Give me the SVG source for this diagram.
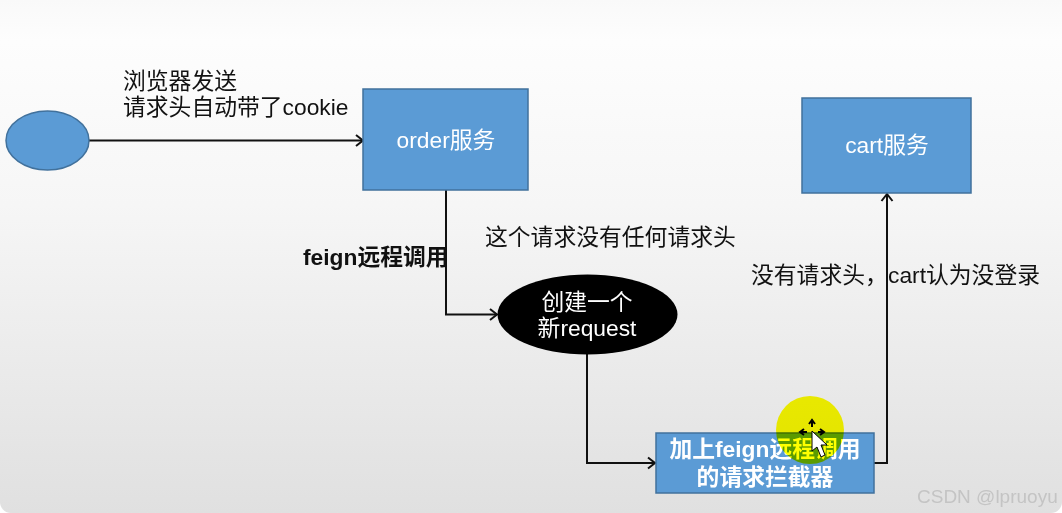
<svg xmlns="http://www.w3.org/2000/svg" width="1062" height="513" viewBox="0 0 1062 513">
<style>
text{font-family:"Liberation Sans","Noto Sans CJK SC",sans-serif;font-size:22.800px;fill:#111}
.w{fill:#fff;text-anchor:middle}
.b{fill:#5b9bd5;stroke:#41719c;stroke-width:1.5}
.c{fill:none;stroke:#111;stroke-width:2;marker-end:url(#a)}
.bold{font-weight:bold}
</style>
<defs>
<linearGradient id="bg" x1="0" y1="0" x2="0" y2="1"><stop offset="0" stop-color="#f9f9f9"/><stop offset=".08" stop-color="#fdfdfd"/><stop offset=".4" stop-color="#f6f6f6"/><stop offset="1" stop-color="#e0e0e0"/></linearGradient>
<marker id="a" markerWidth="14" markerHeight="14" refX="11" refY="7" orient="auto" markerUnits="userSpaceOnUse"><path d="M4 1.500L11 7L4 12.500" fill="none" stroke="#111" stroke-width="2"/></marker>
</defs>
<rect width="1062" height="513" fill="#fff"/>
<path d="M0 0H1062V502A11 11 0 0 1 1051 513H11A11 11 0 0 1 0 502Z" fill="url(#bg)"/>
<g id="connectors">
<path class="c" d="M89 140.500H363"/>
<path class="c" d="M446 190V314.500H497"/>
<path class="c" d="M587 354V463H655"/>
<path class="c" d="M874 463H887V194"/>
</g>
<g id="start"><ellipse class="b" cx="47.500" cy="140.500" rx="41.500" ry="29.500"/></g>
<g id="order"><rect class="b" x="363" y="89" width="165" height="101"/><text class="w" x="446" y="148">order服务</text></g>
<g id="cart"><rect class="b" x="802" y="98" width="169" height="95"/><text class="w" x="887" y="153">cart服务</text></g>
<g id="new-request"><ellipse cx="587.500" cy="314.500" rx="90" ry="40" fill="#000"/><text class="w" x="587" y="310">创建一个</text><text class="w" x="587" y="336">新request</text></g>
<g id="interceptor"><rect x="656" y="433" width="218" height="60" fill="#5b9bd5" stroke="#41719c" stroke-width="1.500"/><text class="w bold" x="765" y="457">加上feign远程调用</text><text class="w bold" x="765" y="485">的请求拦截器</text></g>
<g id="highlight"><circle cx="810" cy="430" r="34" fill="#ffff00" style="mix-blend-mode:multiply"/></g>
<g id="labels">
<text x="123" y="89">浏览器发送</text>
<text x="123" y="115">请求头自动带了cookie</text>
<text class="bold" x="303" y="265">feign远程调用</text>
<text x="485" y="245">这个请求没有任何请求头</text>
<text x="751" y="283">没有请求头，<tspan x="888">cart认为没登录</tspan></text>
<text x="917" y="503" style="font-size:19px;fill:#c4c4c4">CSDN @lpruoyu</text>
</g>
<g id="cursor">
<path d="M812 427v-6M809 424l3-4l3 4M807 432h-6M804 429l-4 3l4 3M818 432h5M820 429l4 3l-4 3" fill="none" stroke="#000" stroke-width="2"/>
<path d="M812 431V451L817 447L821 457L825 455L821 445L827 445Z" fill="#fff" stroke="#000" stroke-width="1"/>
</g>
</svg>
